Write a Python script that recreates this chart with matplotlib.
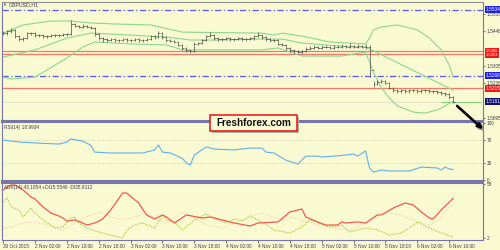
import matplotlib
matplotlib.use("agg")
import matplotlib.pyplot as plt
import numpy as np
from matplotlib.patches import Rectangle
from matplotlib.transforms import blended_transform_factory

plt.rcParams['font.family'] = ['Liberation Sans', 'DejaVu Sans']

# ---- price bars (GBPUSD H1) ----
first_open = 1.5443
closes = [1.5439, 1.5447, 1.5452, 1.5427, 1.5415, 1.5419, 1.5439, 1.5439, 1.5431, 1.5431,
          1.5427, 1.5427, 1.5431, 1.5431, 1.5431, 1.5435, 1.5435, 1.5476, 1.5468, 1.5464,
          1.5468, 1.5464, 1.5460, 1.5435, 1.5419, 1.5415, 1.5411, 1.5415, 1.5411, 1.5411,
          1.5415, 1.5411, 1.5411, 1.5415, 1.5411, 1.5411, 1.5415, 1.5427, 1.5423, 1.5439,
          1.5423, 1.5411, 1.5407, 1.5403, 1.5391, 1.5379, 1.5371, 1.5366, 1.5395, 1.5399,
          1.5411, 1.5427, 1.5431, 1.5419, 1.5415, 1.5415, 1.5419, 1.5415, 1.5415, 1.5419,
          1.5415, 1.5415, 1.5419, 1.5427, 1.5431, 1.5423, 1.5415, 1.5411, 1.5411, 1.5395,
          1.5391, 1.5379, 1.5371, 1.5366, 1.5362, 1.5366, 1.5375, 1.5379, 1.5383, 1.5379,
          1.5383, 1.5383, 1.5379, 1.5383, 1.5383, 1.5387, 1.5383, 1.5387, 1.5383, 1.5387,
          1.5383, 1.5383, 1.5290, 1.5233, 1.5241, 1.5245, 1.5237, 1.5217, 1.5208, 1.5204,
          1.5208, 1.5204, 1.5208, 1.5208, 1.5204, 1.5208, 1.5208, 1.5204, 1.5204, 1.5200,
          1.5196, 1.5192, 1.5180, 1.5160]
highs = [1.5449, 1.5453, 1.5458, 1.5456, 1.5431, 1.5425, 1.5445, 1.5445, 1.5443, 1.5437,
         1.5435, 1.5433, 1.5437, 1.5437, 1.5437, 1.5441, 1.5441, 1.5492, 1.5480, 1.5472,
         1.5474, 1.5472, 1.5468, 1.5464, 1.5439, 1.5423, 1.5419, 1.5419, 1.5419, 1.5417,
         1.5419, 1.5419, 1.5417, 1.5419, 1.5419, 1.5417, 1.5421, 1.5433, 1.5431, 1.5447,
         1.5443, 1.5427, 1.5415, 1.5411, 1.5407, 1.5395, 1.5383, 1.5375, 1.5401, 1.5405,
         1.5417, 1.5433, 1.5443, 1.5435, 1.5423, 1.5421, 1.5423, 1.5423, 1.5421, 1.5423,
         1.5423, 1.5421, 1.5425, 1.5433, 1.5443, 1.5435, 1.5427, 1.5419, 1.5417, 1.5415,
         1.5399, 1.5395, 1.5383, 1.5375, 1.5371, 1.5371, 1.5381, 1.5385, 1.5389, 1.5387,
         1.5389, 1.5389, 1.5387, 1.5389, 1.5389, 1.5393, 1.5391, 1.5399, 1.5391, 1.5393,
         1.5391, 1.5395, 1.5391, 1.5245, 1.5249, 1.5253, 1.5251, 1.5241, 1.5221, 1.5212,
         1.5212, 1.5212, 1.5212, 1.5214, 1.5212, 1.5212, 1.5214, 1.5212, 1.5210, 1.5208,
         1.5204, 1.5200, 1.5196, 1.5184]
lows = [1.5433, 1.5433, 1.5441, 1.5421, 1.5409, 1.5409, 1.5415, 1.5433, 1.5425, 1.5425,
        1.5421, 1.5421, 1.5423, 1.5425, 1.5425, 1.5427, 1.5429, 1.5431, 1.5462, 1.5458,
        1.5458, 1.5458, 1.5454, 1.5429, 1.5411, 1.5405, 1.5405, 1.5407, 1.5405, 1.5405,
        1.5407, 1.5405, 1.5405, 1.5407, 1.5405, 1.5405, 1.5407, 1.5411, 1.5417, 1.5419,
        1.5417, 1.5405, 1.5401, 1.5397, 1.5385, 1.5371, 1.5362, 1.5358, 1.5362, 1.5391,
        1.5395, 1.5407, 1.5423, 1.5413, 1.5409, 1.5409, 1.5411, 1.5409, 1.5409, 1.5411,
        1.5409, 1.5409, 1.5411, 1.5413, 1.5423, 1.5417, 1.5409, 1.5405, 1.5405, 1.5389,
        1.5385, 1.5371, 1.5362, 1.5358, 1.5356, 1.5356, 1.5362, 1.5371, 1.5375, 1.5373,
        1.5375, 1.5377, 1.5373, 1.5375, 1.5377, 1.5379, 1.5377, 1.5379, 1.5377, 1.5379,
        1.5377, 1.5375, 1.5261, 1.5221, 1.5229, 1.5235, 1.5231, 1.5211, 1.5202, 1.5198,
        1.5198, 1.5198, 1.5198, 1.5202, 1.5198, 1.5198, 1.5202, 1.5198, 1.5198, 1.5194,
        1.5190, 1.5186, 1.5174, 1.5154]

# ---- bollinger bands at a few bars ----
bb_up_x = [0, 5, 12, 17, 22, 28, 37, 45, 65, 68, 70, 75, 82, 91, 92, 93, 95, 99, 104, 107, 110, 112, 113]
bb_up = [1.5439, 1.5472, 1.5488, 1.5488, 1.5480, 1.5476, 1.5472, 1.5443, 1.5439, 1.5431, 1.5439, 1.5427,
         1.5403, 1.5395, 1.5419, 1.5452, 1.5464, 1.5472, 1.5452, 1.5419, 1.5371, 1.5310, 1.5261]
bb_mid_x = [0, 8, 16, 22, 32, 41, 47, 54, 65, 70, 75, 87, 91, 113]
bb_mid = [1.5342, 1.5371, 1.5419, 1.5439, 1.5431, 1.5423, 1.5411, 1.5411, 1.5415, 1.5415, 1.5399,
          1.5383, 1.5383, 1.5208]
bb_lo_x = [0, 2, 8, 16, 20, 23, 32, 41, 45, 54, 65, 69, 75, 85, 91, 92, 93, 95, 97, 99, 103, 106, 109, 111, 113]
bb_lo = [1.5261, 1.5253, 1.5261, 1.5338, 1.5383, 1.5403, 1.5395, 1.5391, 1.5371, 1.5371, 1.5371, 1.5379,
         1.5346, 1.5346, 1.5362, 1.5322, 1.5281, 1.5217, 1.5176, 1.5144, 1.5119, 1.5115, 1.5128, 1.5144, 1.5164]

# horizontal levels
blue_levels = [1.5534, 1.5266]
red_levels = [1.5365, 1.5353, 1.5215]
last_price = 1.5161
price_ticks = [1.5516, 1.5446, 1.5305, 1.5236, 1.5095]

# ---- RSI(14) ----
rsi_x = [0, 4, 8, 14, 16, 17, 20, 22, 23, 27, 30, 35, 38, 39, 40, 42, 45, 46, 47, 48, 51, 53, 58, 60, 62,
         65, 66, 68, 71, 74, 76, 79, 80, 83, 86, 88, 89, 91, 92, 93, 95, 97, 102, 105, 109, 110, 111, 112, 113]
rsi = [70, 66.6, 65, 63, 66.6, 72, 68, 61, 49, 47.5, 47.5, 47.5, 52.7, 61.4, 49, 47.5, 38, 30, 26.6, 44,
       58, 54.4, 52.7, 54.4, 56, 56, 49, 47.5, 35, 28.3, 42, 42, 40.5, 42, 44, 45.7, 42, 51, 21.4, 14.4,
       17.9, 16.2, 16.2, 23, 21.4, 17.9, 23, 19.7, 19.0]

# ---- ADX(14) ----
adx_x = [0, 2, 3, 5, 7, 8, 10, 12, 14, 15, 16, 18, 20, 21, 23, 25, 27, 30, 31, 34, 36, 38, 40, 41, 43, 46,
         50, 52, 55, 58, 62, 64, 69, 72, 75, 76, 79, 81, 84, 85, 86, 89, 91, 94, 95, 98, 101, 103, 105, 107,
         108, 110, 113]
adx = [52, 57.2, 57.2, 52, 44.7, 42.6, 34.3, 28, 24.9, 22.8, 19.7, 20.8, 17.6, 15.5, 17.6, 21.8, 31.2, 48.9,
       48.9, 38.5, 26, 21.8, 26, 23.9, 17.6, 26, 22.8, 23.9, 20.8, 17.6, 14.5, 17.6, 18.7, 29.1, 32.2, 23.9,
       18.7, 15.5, 15.5, 18.7, 17.6, 18.7, 17.6, 26, 26, 33.3, 38.5, 36.4, 29.1, 22.8, 21.8, 31.2, 43.2]
pdi_x = [0, 1, 2, 4, 5, 7, 8, 10, 13, 15, 17, 18, 19, 21, 24, 27, 30, 31, 33, 35, 38, 40, 41, 43, 45, 48,
         51, 54, 56, 58, 60, 62, 65, 68, 72, 75, 77, 79, 82, 85, 87, 91, 94, 97, 100, 102, 104, 107, 110, 113]
pdi = [39.5, 43.7, 34.3, 31.2, 23.9, 33.3, 28, 20.8, 12.4, 13.5, 22.8, 23.9, 17.6, 12.4, 8.3, 5.1, 2, 10.3,
       15.5, 17.6, 12.4, 26, 20.8, 18.7, 10.3, 20.8, 27, 20.8, 17.6, 21.8, 19.7, 25, 18.7, 10.3, 7.2, 13.5,
       20.8, 17.6, 13.5, 15.5, 8.3, 12.4, 10.3, 5.1, 7.2, 12.4, 18.7, 12.4, 7.2, 3]
mdi_x = [0, 2, 5, 8, 11, 15, 18, 21, 24, 27, 30, 33, 36, 39, 41, 45, 47, 51, 55, 58, 62, 65, 70, 72, 75,
         79, 83, 87, 92, 94, 97, 100, 104, 107, 110, 112, 113]
mdi = [12.4, 13.5, 17.6, 18.7, 15.5, 10.3, 17.6, 23.9, 29.1, 23.9, 20.8, 23.9, 28, 20.8, 17.6, 29.1, 26,
       15.5, 12.4, 17.6, 23.9, 28, 20.8, 23.9, 20.8, 15.5, 12.4, 10.3, 18.7, 28, 28, 26, 18.7, 15.5, 22.8,
       34.3, 35.8]

time_ticks = [0, 8, 16, 24, 32, 40, 48, 56, 64, 72, 80, 88, 96, 104, 112]
time_labels = ["30 Oct 2015", "2 Nov 02:00", "2 Nov 10:00", "2 Nov 18:00", "3 Nov 02:00",
               "3 Nov 10:00", "3 Nov 18:00", "4 Nov 02:00", "4 Nov 10:00", "4 Nov 18:00",
               "5 Nov 02:00", "5 Nov 10:00", "5 Nov 18:00", "6 Nov 02:00", "6 Nov 10:00"]

BG = '#fafad2'
FRAME = '#7676ac'
TXT = '#3a3a4a'
FS = 3.4

fig = plt.figure(figsize=(5, 2.5), dpi=100, facecolor=BG)


def px_axes(top, bottom):
    return fig.add_axes([2 / 500, 1 - bottom / 250, 481 / 500, (bottom - top) / 250])


ax = px_axes(2, 121)
ax_rsi = px_axes(122, 181)
ax_adx = px_axes(183, 240)

for a in (ax, ax_rsi, ax_adx):
    a.set_facecolor(BG)
    a.set_xlim(-0.3, 120.5)
    for s in a.spines.values():
        s.set_color(FRAME)
        s.set_linewidth(0.8)
    a.yaxis.tick_right()
    a.tick_params(axis='y', labelsize=FS, length=1.5, width=0.5, pad=1, colors=TXT)
    a.tick_params(axis='x', labelsize=FS, length=2, width=0.5, pad=1, colors=TXT)
    a.set_xticks([])

ax.spines['top'].set_color('#909090')
ax.spines['bottom'].set_linewidth(1.5)
ax_rsi.spines['top'].set_linewidth(1.5)
ax_rsi.spines['bottom'].set_linewidth(1.5)
ax_adx.spines['top'].set_linewidth(1.5)

# main panel
idx = np.arange(len(closes))
opens = np.r_[first_open, closes[:-1]]
ax.set_ylim(1.5083, 1.5565)
for lv in blue_levels:
    ax.axhline(lv, color='#5a5af0', lw=0.9, ls=(0, (5, 2, 1, 2)))
for lv in red_levels:
    ax.axhline(lv, color='#f07a66', lw=0.9)
ax.axhline(last_price, color='#e4e4cc', lw=0.8)
ax.hlines(last_price, 110, 120, color='#7ed07e', lw=0.8)

gc = '#8cd68c'
ax.plot(bb_up_x, bb_up, color=gc, lw=0.8)
ax.plot(bb_mid_x, bb_mid, color=gc, lw=0.8)
ax.plot(bb_lo_x, bb_lo, color=gc, lw=0.8)

bc = '#484848'
ax.vlines(idx, lows, highs, color=bc, lw=0.5)
ax.hlines(closes, idx, idx + 0.45, color=bc, lw=0.5)
ax.hlines(opens, idx - 0.45, idx, color=bc, lw=0.5)
ax.set_yticks(price_ticks)
ax.set_yticklabels(["%.4f" % v for v in price_ticks])

tr = blended_transform_factory(ax.transAxes, ax.transData)
box_labels = [(1.5534, '#2020f0'), (1.5266, '#2020f0'), (1.5215, '#f01818'), (last_price, '#101070')]
for val, col in box_labels:
    ax.text(1.006, val, "%.4f" % val, transform=tr, fontsize=FS, color='white', va='center', ha='left',
            clip_on=False, zorder=6,
            bbox=dict(boxstyle='square,pad=0.18', fc=col, ec='none'))
# the two close red levels share one label box
ax.text(1.006, (red_levels[0] + red_levels[1]) / 2,
        "%.4f\n%.4f" % (red_levels[0], red_levels[1]), transform=tr, fontsize=3.0, color='white',
        va='center', ha='left', linespacing=0.95, clip_on=False, zorder=6,
        bbox=dict(boxstyle='square,pad=0.18', fc='#f01818', ec='none'))

# RSI panel
ax_rsi.set_ylim(-1.2, 101.4)
ax_rsi.axhline(70, color='#cacab8', lw=0.5, ls=(0, (2, 2)))
ax_rsi.axhline(30, color='#cacab8', lw=0.5, ls=(0, (2, 2)))
ax_rsi.plot(rsi_x, rsi, color='#5eb0ee', lw=0.8)
ax_rsi.set_yticks([0, 30, 70, 100])

# ADX panel
ax_adx.set_ylim(-0.1, 59.3)
ax_adx.plot(mdi_x, mdi, color='#f2d8c0', lw=0.8, ls=(0, (1.5, 1)))
ax_adx.plot(pdi_x, pdi, color='#b4d048', lw=0.8, ls=(0, (1.5, 1)))
ax_adx.plot(adx_x, adx, color='#f05a50', lw=0.9)
ax_adx.set_yticks([2, 58])
ax_adx.set_xticks(time_ticks)
ax_adx.set_xticklabels(time_labels, ha='left')

# panel captions
fig.text(2 / 500, 1 - 5 / 250, '\u25bc', fontsize=2.8, color=TXT, va='center')
fig.text(9 / 500, 1 - 5 / 250, 'GBPUSD,H1', fontsize=3.8, color=TXT, va='center')
fig.text(4 / 500, 1 - 127 / 250, 'RSI(14) 18.9934', fontsize=FS, color=TXT, va='center')
fig.text(4 / 500, 1 - 187 / 250, 'ADX(14) 43.1854 +DI15.5546 -DI35.8112', fontsize=FS, color=TXT, va='center')

# watermark
fig.add_artist(Rectangle((212 / 500, 1 - 133 / 250), 87 / 500, 16 / 250, transform=fig.transFigure,
                         fc='#b0b0a0', ec='none', zorder=10))
fig.add_artist(Rectangle((210 / 500, 1 - 131 / 250), 87 / 500, 16 / 250, transform=fig.transFigure,
                         fc='#fbfbd6', ec='#ee1010', lw=1.1, zorder=11))
fig.text(253.5 / 500, 1 - 123 / 250, 'Freshforex.com', fontsize=7.2, fontweight='bold', color='#111111',
         ha='center', va='center', zorder=12)

# arrow
fig.add_artist(plt.Annotation('', xy=(487, 250 - 133), xytext=(457, 250 - 106), xycoords='figure pixels',
                              arrowprops=dict(arrowstyle='-|>', lw=1.8, color='#909090', mutation_scale=7),
                              zorder=12))
fig.add_artist(plt.Annotation('', xy=(485, 250 - 131), xytext=(455, 250 - 104), xycoords='figure pixels',
                              arrowprops=dict(arrowstyle='-|>', lw=1.8, color='black', mutation_scale=7),
                              zorder=13))

fig.savefig("out.png", dpi=100, facecolor=BG)
